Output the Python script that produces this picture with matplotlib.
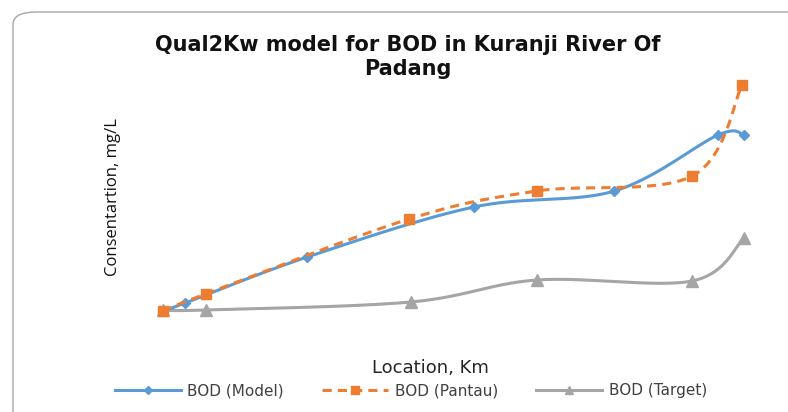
import numpy as np
import matplotlib
matplotlib.use("Agg")
import matplotlib.pyplot as plt
from matplotlib.patches import FancyBboxPatch
from matplotlib.lines import Line2D

# Location (km) and BOD (mg/L) (axes are hidden in the original)
loc_model = [0.0, 0.6, 3.9, 8.4, 12.2, 15.0, 15.7]
bod_model = [0.0, 0.4, 2.7, 5.2, 6.0, 8.8, 8.8]
loc_pantau = [0.0, 1.15, 6.65, 10.1, 14.3, 15.65]
bod_pantau = [0.0, 0.85, 4.6, 6.0, 6.75, 11.3]
loc_target = [0.0, 1.15, 6.7, 10.1, 14.3, 15.7]
bod_target = [0.05, 0.05, 0.45, 1.55, 1.5, 3.65]

title = "Qual2Kw model for BOD in Kuranji River Of\nPadang"
xlabel = "Location, Km"
ylabel = "Consentartion, mg/L"
names = ["BOD (Model)", "BOD (Pantau)", "BOD (Target)"]


def smooth(x, y, n=30):
    # Excel-style smoothed line (Catmull-Rom Bezier through the points)
    x = np.asarray(x, float); y = np.asarray(y, float)
    P = np.column_stack([x, y])
    out = []
    for i in range(len(P) - 1):
        p0 = P[i - 1] if i > 0 else P[i]
        p1 = P[i]; p2 = P[i + 1]
        p3 = P[i + 2] if i + 2 < len(P) else P[i + 1]
        c1 = p1 + (p2 - p0) / 6.0
        c2 = p2 - (p3 - p1) / 6.0
        t = np.linspace(0, 1, n)[:, None]
        seg = (1 - t) ** 3 * p1 + 3 * (1 - t) ** 2 * t * c1 + 3 * (1 - t) * t ** 2 * c2 + t ** 3 * p2
        out.append(seg if i == 0 else seg[1:])
    s = np.vstack(out)
    return s[:, 0], s[:, 1]


plt.rcParams['font.family'] = ['DejaVu Sans']
W, H = 788, 412
fig = plt.figure(figsize=(W / 100, H / 100), dpi=100)

# rounded chart border
border = FancyBboxPatch((13 / W, (H - 430) / H), 800 / W, 418 / H,
                        boxstyle="round,pad=0,rounding_size=0.03",
                        transform=fig.transFigure, facecolor='none',
                        edgecolor='#a6a6a6', linewidth=1.0, clip_on=False)
fig.patches.append(border)

# axes mapping: px = 163 + 37*km ; py = 311 - 20*mgL
left_px, right_px, top_px, bot_px = 140, 770, 70, 330
ax = fig.add_axes([left_px / W, 1 - bot_px / H, (right_px - left_px) / W, (bot_px - top_px) / H])
ax.set_xlim((left_px - 163) / 37, (right_px - 163) / 37)
ax.set_ylim((311 - bot_px) / 20, (311 - top_px) / 20)
ax.axis('off')

c_blue, c_orange, c_gray = '#5b9bd5', '#ed7d31', '#a5a5a5'

xs, ys = smooth(loc_target, bod_target)
ax.plot(xs, ys, color=c_gray, lw=2.2, zorder=2)
ax.plot(loc_target, bod_target, ls='none', marker='^', ms=8, color=c_gray, zorder=3)

xs, ys = smooth(loc_model, bod_model)
ax.plot(xs, ys, color=c_blue, lw=2.2, zorder=4)
ax.plot(loc_model, bod_model, ls='none', marker='D', ms=5.5, color=c_blue, zorder=5)

xs, ys = smooth(loc_pantau, bod_pantau)
ax.plot(xs, ys, color=c_orange, lw=2.2, ls=(0, (3, 2)), zorder=6)
ax.plot(loc_pantau, bod_pantau, ls='none', marker='s', ms=7, color=c_orange, zorder=7)

fig.text(408 / W, 1 - 57 / H, title, ha='center', va='center', fontsize=15,
         fontweight='bold', color='#111111', linespacing=1.25)
fig.text(430 / W, 1 - 368 / H, xlabel, ha='center', va='center', fontsize=13, color='#262626')
fig.text(113 / W, 1 - 197 / H, ylabel, ha='center', va='center', fontsize=12,
         rotation=90, color='#111111', family='Open Sans')

# legend
handles = [Line2D([], [], color=c_blue, lw=2.2, marker='D', ms=4),
           Line2D([], [], color=c_orange, lw=2.2, ls=(0, (3, 2)), marker='s', ms=5.5),
           Line2D([], [], color=c_gray, lw=2.2, marker='^', ms=5.5)]
leg = fig.legend(handles, names, loc='center', bbox_to_anchor=(411 / W, 1 - 391 / H),
                 ncol=3, frameon=False, fontsize=11, handlelength=4.3,
                 columnspacing=2.5, handletextpad=0.45)
for t in leg.get_texts():
    t.set_color('#404040')

fig.savefig('out.png', dpi=100)
